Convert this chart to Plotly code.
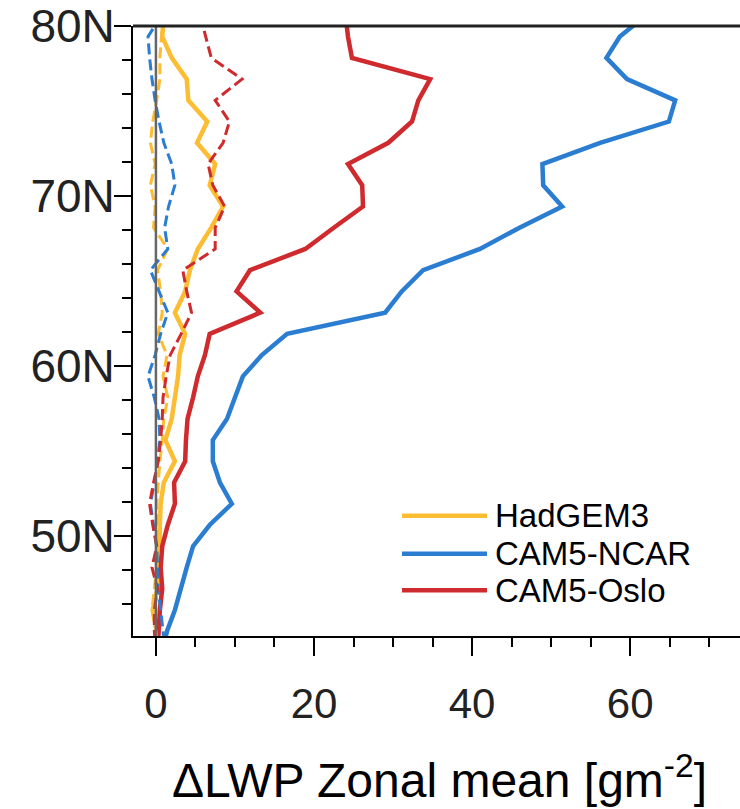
import plotly.graph_objects as go

lat = [80.625, 79.375, 78.125, 76.875, 75.625, 74.375, 73.125, 71.875, 70.625, 69.375,
       68.125, 66.875, 65.625, 64.375, 63.125, 61.875, 60.625, 59.375, 58.125, 56.875,
       55.625, 54.375, 53.125, 51.875, 50.625, 49.375, 48.125, 46.875, 45.625, 44.375, 43.125]

had_solid = [1.0, 0.8, 2.0, 3.9, 4.1, 6.5, 5.2, 7.5, 6.8, 8.5,
             7.0, 5.3, 4.3, 3.7, 2.4, 3.7, 3.0, 2.8, 2.4, 2.0,
             1.2, 2.4, 1.0, 0.6, 0.5, 0.5, 0.3, 0.2, -0.4, 0.1, 0.3]
ncar_solid = [62.0, 58.7, 57.0, 59.6, 65.7, 64.9, 56.2, 48.9, 49.0, 51.4,
              46.0, 41.0, 33.8, 31.1, 29.0, 16.6, 13.4, 11.0, 10.0, 9.0,
              7.2, 7.2, 8.1, 9.6, 6.8, 4.7, 3.9, 3.2, 2.4, 1.4, 0.8]
oslo_solid = [24.0, 24.3, 24.8, 34.7, 33.2, 32.4, 29.4, 24.3, 26.1, 26.2,
              22.5, 18.9, 11.9, 10.2, 13.2, 6.8, 6.2, 5.3, 4.7, 4.0,
              3.8, 3.7, 2.3, 2.4, 1.5, 0.8, 0.6, 0.8, 0.5, 0.3, 0.2]
had_dash = [0.8, 0.7, 0.5, 0.5, 0.1, -0.4, -0.7, -0.1, -0.7, -0.1,
            -0.3, 1.5, 0.2, 0.6, 0.8, 0.3, 1.4, 0.9, 1.5, 1.0,
            0.8, 0.5, 0.3, 0.1, 0.2, 0.3, 0.1, -0.2, -0.5, 0.0, 0.2]
ncar_dash = [0.7, -1.0, -0.8, -0.5, -0.1, 0.4, 1.0, 2.0, 2.4, 1.6,
             1.1, 1.5, -0.7, 0.4, 1.5, 0.6, -0.1, -1.0, -0.2, 0.4,
             0.5, 0.2, -0.2, -0.7, -0.3, 0.1, 0.2, 0.3, 0.6, 0.9, 1.2]
oslo_dash = [5.6, 6.3, 7.0, 10.9, 7.5, 9.3, 8.5, 6.6, 7.2, 8.7,
             7.5, 7.5, 3.4, 3.9, 4.5, 3.2, 1.8, 1.3, 0.9, 0.8,
             0.6, 0.3, -0.3, -0.8, -0.4, 0.1, -0.5, 0.2, -0.2, -0.2, 0.0]

names = ["HadGEM3", "CAM5-NCAR", "CAM5-Oslo"]
colors = ["#FDBD33", "#2A7DD1", "#CF2A2D"]

FONT = "Liberation Sans, Arial, Helvetica, sans-serif"

fig = go.Figure()

for vals, c, n in zip([had_solid, ncar_solid, oslo_solid], colors, names):
    fig.add_trace(go.Scatter(x=vals, y=lat, mode="lines", name=n,
                             line=dict(color=c, width=4.5), showlegend=False))
for vals, c, n in zip([had_dash, ncar_dash, oslo_dash], colors, names):
    fig.add_trace(go.Scatter(x=vals, y=lat, mode="lines", name=n + " (dashed)",
                             line=dict(color=c, width=3, dash="11px,5px"), showlegend=False))

# zero line
fig.add_shape(type="line", xref="x", yref="paper", x0=0, x1=0, y0=0, y1=1,
              line=dict(color="#666666", width=2.5), layer="above")

# top frame line
fig.add_shape(type="line", xref="paper", yref="paper", x0=0, x1=1, y0=1, y1=1,
              line=dict(color="#222222", width=3), layer="above")

# custom legend
leg_y = [0.197, 0.135, 0.075]
for n, c, yy in zip(names, colors, leg_y):
    fig.add_shape(type="line", xref="paper", yref="paper",
                  x0=(402 - 133) / 607, x1=(487 - 133) / 607, y0=yy, y1=yy,
                  line=dict(color=c, width=4.5))
    fig.add_annotation(xref="paper", yref="paper", x=(493 - 133) / 607, y=yy,
                       text=n, showarrow=False, xanchor="left", yanchor="middle",
                       font=dict(family=FONT, size=33, color="black"))

fig.add_annotation(xref="paper", yref="paper", x=0.505, y=(636 - 778) / 614,
                   text="ΔLWP Zonal mean [gm<sup>-2</sup>]", showarrow=False,
                   xanchor="center", yanchor="middle",
                   font=dict(family=FONT, size=48, color="black"))

fig.update_xaxes(range=[-2.9, 73.9], showgrid=False, zeroline=False,
                 showline=True, linecolor="black", linewidth=2, mirror=False,
                 ticks="outside", ticklen=18, tickwidth=2, tickcolor="black",
                 tickmode="linear", tick0=0, dtick=20,
                 minor=dict(ticks="outside", ticklen=9, tickwidth=1.5, tickcolor="black",
                            tick0=0, dtick=5, showgrid=False),
                 tickfont=dict(family=FONT, size=42, color="#222"),
                 ticklabelstandoff=12)
fig.update_yaxes(range=[44.09, 80], showgrid=False, zeroline=False,
                 showline=True, linecolor="black", linewidth=2, mirror=False,
                 ticks="outside", ticklen=17, tickwidth=2, tickcolor="black",
                 tickmode="linear", tick0=50, dtick=10, ticksuffix="N",
                 minor=dict(ticks="outside", ticklen=9, tickwidth=1.5, tickcolor="black",
                            tick0=0, dtick=2, showgrid=False),
                 tickfont=dict(family=FONT, size=46, color="#222"),
                 ticklabelstandoff=-10, ticklabeloverflow="allow")

fig.update_layout(width=740, height=809,
                  margin=dict(l=133, r=0, t=22, b=173),
                  paper_bgcolor="white", plot_bgcolor="white",
                  showlegend=False)

fig.write_html("out.html")
